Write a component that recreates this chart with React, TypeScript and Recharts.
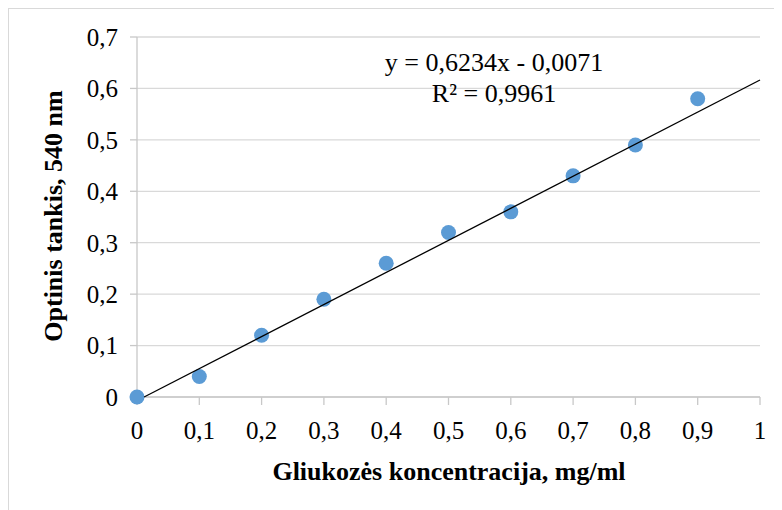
import { ScatterChart, Scatter, XAxis, YAxis, CartesianGrid } from "recharts";

// Gliukozės kalibravimo taškai
const concentrations = [0, 0.1, 0.2, 0.3, 0.4, 0.5, 0.6, 0.7, 0.8, 0.9];
const densities = [0, 0.04, 0.12, 0.19, 0.26, 0.32, 0.36, 0.43, 0.49, 0.58];

const xTicks = [0, 0.1, 0.2, 0.3, 0.4, 0.5, 0.6, 0.7, 0.8, 0.9, 1];
const yTicks = [0, 0.1, 0.2, 0.3, 0.4, 0.5, 0.6, 0.7];

// tiesinė regresija: y = 0,6234x - 0,0071
const slope = 0.6234;
const intercept = -0.0071;

const points = concentrations.map((x, i) => ({ x, y: densities[i] }));
const trend = [
  { x: -intercept / slope, y: 0 },
  { x: 1, y: slope + intercept },
];

const fmt = (v: number) => (v === 0 ? "0" : String(v).replace(".", ","));

const FONT = "Liberation Serif, serif";
const serif = { fontFamily: FONT };

const Dot = (props: any) => <circle cx={props.cx} cy={props.cy} r={7.5} fill="#5b9bd5" />;

export default function App() {
  return (
    <div style={{ width: 774, height: 502, overflow: "hidden", position: "relative", fontFamily: FONT }}>
      <div
        style={{
          position: "absolute",
          left: 0,
          top: 0,
          width: 790,
          height: 520,
          border: "1px solid #d9d9d9",
          boxSizing: "border-box",
        }}
      />
      <ScatterChart
        width={774}
        height={502}
        margin={{ top: 29, right: 22, bottom: 73, left: 69 }}
        style={{ position: "absolute", left: 0, top: 0, fontFamily: FONT }}
      >
        <CartesianGrid vertical={false} stroke="#d9d9d9" strokeWidth={1.3} />
        <XAxis
          type="number"
          dataKey="x"
          domain={[0, 1]}
          ticks={xTicks}
          tickFormatter={fmt}
          height={40}
          tickSize={8}
          tickMargin={16}
          stroke="#c8c8c8"
          strokeWidth={1.3}
          tick={{ fill: "#000", fontSize: 25, style: serif }}
        />
        <YAxis
          type="number"
          dataKey="y"
          domain={[0, 0.7]}
          ticks={yTicks}
          tickFormatter={fmt}
          width={60}
          tickSize={7}
          tickMargin={12}
          stroke="#c8c8c8"
          strokeWidth={1.3}
          tick={{ fill: "#000", fontSize: 25, style: serif }}
        />
        <Scatter data={points} shape={Dot} isAnimationActive={false} />
        <Scatter
          data={trend}
          line={{ stroke: "#000", strokeWidth: 1.3 }}
          shape={() => <g />}
          isAnimationActive={false}
        />
        <text x={486} y={63} textAnchor="middle" fontSize={26} style={serif} fill="#000">
          y = 0,6234x - 0,0071
        </text>
        <text x={486} y={94} textAnchor="middle" fontSize={26} style={serif} fill="#000">
          R² = 0,9961
        </text>
        <text
          x={441}
          y={472}
          textAnchor="middle"
          fontSize={26}
          fontWeight="bold"
          style={serif}
          fill="#000"
        >
          Gliukozės koncentracija, mg/ml
        </text>
        <text
          x={0}
          y={0}
          transform="translate(54 208) rotate(-90)"
          textAnchor="middle"
          fontSize={26}
          fontWeight="bold"
          style={serif}
          fill="#000"
        >
          Optinis tankis, 540 nm
        </text>
      </ScatterChart>
    </div>
  );
}
